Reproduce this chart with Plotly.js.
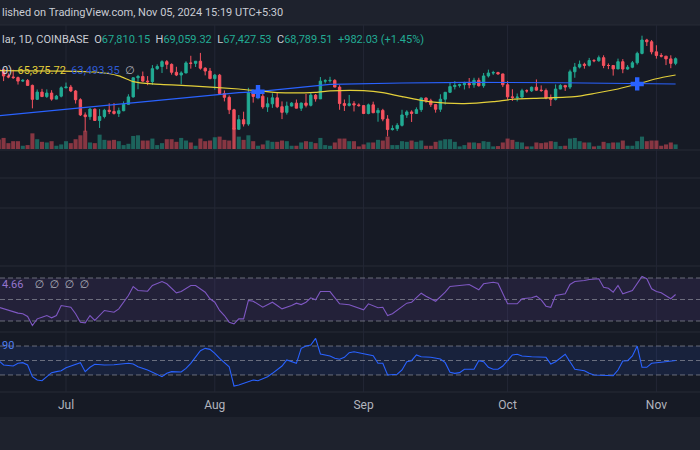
<!DOCTYPE html>
<html><head><meta charset="utf-8">
<script src="https://cdn.plot.ly/plotly-3.0.1.min.js"></script>
<style>html,body{margin:0;padding:0;background:#161a25;overflow:hidden}</style>
</head><body><div id="chart" style="width:700px;height:450px"></div>
<script>
// ---- Daily candles, COINBASE BTC/USD, 1D ----
const dates = [
'2024-06-17','2024-06-18','2024-06-19','2024-06-20','2024-06-21','2024-06-22','2024-06-23','2024-06-24','2024-06-25','2024-06-26','2024-06-27','2024-06-28','2024-06-29','2024-06-30',
'2024-07-01','2024-07-02','2024-07-03','2024-07-04','2024-07-05','2024-07-06','2024-07-07','2024-07-08','2024-07-09','2024-07-10','2024-07-11','2024-07-12','2024-07-13','2024-07-14','2024-07-15','2024-07-16','2024-07-17','2024-07-18','2024-07-19','2024-07-20','2024-07-21','2024-07-22','2024-07-23','2024-07-24','2024-07-25','2024-07-26','2024-07-27','2024-07-28','2024-07-29','2024-07-30','2024-07-31',
'2024-08-01','2024-08-02','2024-08-03','2024-08-04','2024-08-05','2024-08-06','2024-08-07','2024-08-08','2024-08-09','2024-08-10','2024-08-11','2024-08-12','2024-08-13','2024-08-14','2024-08-15','2024-08-16','2024-08-17','2024-08-18','2024-08-19','2024-08-20','2024-08-21','2024-08-22','2024-08-23','2024-08-24','2024-08-25','2024-08-26','2024-08-27','2024-08-28','2024-08-29','2024-08-30','2024-08-31',
'2024-09-01','2024-09-02','2024-09-03','2024-09-04','2024-09-05','2024-09-06','2024-09-07','2024-09-08','2024-09-09','2024-09-10','2024-09-11','2024-09-12','2024-09-13','2024-09-14','2024-09-15','2024-09-16','2024-09-17','2024-09-18','2024-09-19','2024-09-20','2024-09-21','2024-09-22','2024-09-23','2024-09-24','2024-09-25','2024-09-26','2024-09-27','2024-09-28','2024-09-29','2024-09-30',
'2024-10-01','2024-10-02','2024-10-03','2024-10-04','2024-10-05','2024-10-06','2024-10-07','2024-10-08','2024-10-09','2024-10-10','2024-10-11','2024-10-12','2024-10-13','2024-10-14','2024-10-15','2024-10-16','2024-10-17','2024-10-18','2024-10-19','2024-10-20','2024-10-21','2024-10-22','2024-10-23','2024-10-24','2024-10-25','2024-10-26','2024-10-27','2024-10-28','2024-10-29','2024-10-30','2024-10-31',
'2024-11-01','2024-11-02','2024-11-03','2024-11-04','2024-11-05'];
const open = [
66650,66500,65170,64960,64830,64100,64250,63200,60280,61800,60860,61600,60330,60950,
62700,62850,62030,60200,57030,56660,58240,55860,56700,58000,57750,57340,57900,59240,60800,64800,65070,64100,63980,66700,67150,68170,67600,65940,65370,65800,67900,67810,68260,66800,66200,
64620,65350,61500,60700,58100,54020,56030,55130,61700,60880,60940,58700,59350,60600,58740,57560,58880,59490,58440,59500,59030,61170,60380,64090,64180,64250,62850,59400,59020,59370,59120,
58970,57320,59130,57480,57970,56160,53960,54150,54840,57020,57650,57340,58130,60570,60000,59180,58210,60310,61760,62950,63200,63350,63580,63340,64270,63140,65180,65790,65880,65600,
63330,60810,60650,60750,62090,62060,62820,62210,62130,60580,60270,62440,63200,62850,66050,67040,67620,67400,68400,68360,69000,67370,67370,66650,68160,66620,67000,67930,69900,72700,72330,
70220,69460,69320,68750,67810.15];
const high = [
67250,66550,65720,66480,65050,64520,64530,63370,62350,62480,62370,62200,61200,63000,
63800,63300,62250,60500,57550,58480,58380,58250,58300,59450,59500,58550,59850,61350,64900,65400,66100,65150,67450,67600,68450,68500,67800,67100,66150,68250,69400,68300,70000,66980,66850,
65600,65600,62150,61100,58300,57000,57700,62700,61750,61450,61850,60700,61550,61800,59850,59800,59700,60250,59600,61400,61800,61400,64950,64500,65000,64500,63250,60250,61200,59900,59450,
59050,59400,59800,58500,58300,56980,54850,55300,58100,58000,57990,58600,60650,60650,60400,59200,61350,61800,63850,64100,63550,63980,64750,64800,64800,65800,66500,66250,66050,65650,
64100,62400,61500,62500,62380,62950,64450,63200,62550,61300,63400,63450,63300,66500,67900,68400,67950,68950,68700,69450,69500,67800,67450,68800,68700,67450,68300,70250,73600,72950,72700,
71600,69950,69350,69500,69059.32];
const low = [
65100,64100,64690,64560,63380,63940,63200,58400,60250,60800,60600,60000,60330,60700,
62600,61800,59400,56800,53550,56000,55750,54300,56300,57200,57100,56600,57800,59200,60650,62400,63950,63250,63300,66450,65800,66600,65450,65150,63450,65750,66700,67050,66500,65300,64500,
62300,61200,59850,57200,49050,53950,54600,54750,59600,60300,58300,57650,58500,58450,56150,57100,58800,58400,57850,58600,58800,59800,60350,63600,63800,62800,58100,57850,58800,57750,58750,
57200,57150,57400,55600,55700,52550,53750,53650,54600,56400,55550,57330,57650,59550,58700,57500,57650,59200,61600,62350,62750,62350,62600,62700,62950,62700,64850,65400,65450,62850,
60200,59950,59850,60450,61650,61850,62130,61850,60300,58900,60050,62400,62050,62450,64800,66750,66700,67150,68050,68150,66800,66600,65250,66600,65750,66500,66800,67550,69700,71450,69700,
68800,69050,67450,66800,67427.53];
const close = [
66500,65170,64960,64830,64100,64250,63200,60280,61800,60860,61600,60330,60950,62700,
62850,62030,60200,57030,56660,58240,55860,56700,58000,57750,57340,57900,59240,60800,64800,65070,64100,63980,66700,67150,68170,67600,65940,65370,65800,67900,67810,68260,66800,66200,64620,
65350,61500,60700,58100,54020,56030,55130,61700,60880,60940,58700,59350,60600,58740,57560,58880,59490,58440,59500,59030,61170,60380,64090,64180,64250,62850,59400,59020,59370,59120,58970,
57320,59130,57480,57970,56160,53960,54150,54840,57020,57650,57340,58130,60570,60000,59180,58210,60310,61760,62950,63200,63350,63580,63340,64270,63140,65180,65790,65880,65600,63330,
60810,60650,60750,62090,62060,62820,62210,62130,60580,60270,62440,63200,62850,66050,67040,67620,67400,68400,68360,69000,67370,67370,66650,68160,66620,67000,67930,69900,72700,72330,70220,
69460,69320,68750,67807.48,68789.51];
// volume, thousands of BTC
const volumeK = [
14.5,17,9,12,12,5,6,24,15,11,10,12,5,7,
12,9,15,21,28,10,9,22,14,13,14,12,6,8,20,21,13,13,16,6,9,15,15,11,17,13,10,5,16,12,13,
18,19,14,13,32,19,14,21,12,5,7,13,11,11,13,12,5,5,10,12,11,9,17,6,5,10,16,16,12,12,4,
7,10,10,14,13,19,6,6,12,11,13,11,13,5,5,11,13,15,15,11,4,6,10,10,9,12,11,4,4.5,10,
16,14,11,10,4,4,10,9,10,12,11,4.5,5,16,17,12,10,10,4,5,11,9,10,10,13,5,5,12,19,12,13,
13,5,7,10,7];

// ---- Moving averages ----
const maFastDates = ['2024-06-17','2024-07-07','2024-07-12','2024-07-15','2024-07-19','2024-07-27','2024-08-06','2024-08-14','2024-08-22','2024-08-25','2024-09-01','2024-09-05','2024-09-09','2024-09-15','2024-09-22','2024-09-28','2024-10-02','2024-10-08','2024-10-15','2024-10-19','2024-10-24','2024-10-29','2024-11-01','2024-11-05'];
const maFast = [66300,66000,65200,64000,63500,63100,62450,61700,61750,62050,62100,61700,60850,59750,59400,59800,60300,60550,60850,61500,62450,63750,64600,65375.72];
const maSlowDates = ['2024-06-17','2024-07-12','2024-08-06','2024-08-10','2024-08-18','2024-08-25','2024-09-09','2024-09-23','2024-10-12','2024-10-28','2024-11-05'];
const maSlow = [56860,59300,61670,61880,62650,63430,63700,63850,63750,63500,63493.35];
const crossDates = ['2024-08-10','2024-10-28'];
const crossValues = [61880,63500];

// ---- RSI pane ----
const rsiDates = ['2024-06-17','2024-06-19','2024-06-21','2024-06-22','2024-06-23','2024-06-24','2024-06-25','2024-06-26','2024-06-27','2024-06-28','2024-06-29','2024-06-30',
'2024-07-02','2024-07-03','2024-07-04','2024-07-05','2024-07-06','2024-07-07','2024-07-08','2024-07-09','2024-07-11','2024-07-12','2024-07-14','2024-07-15','2024-07-16','2024-07-18','2024-07-19','2024-07-20','2024-07-21','2024-07-22','2024-07-23','2024-07-24','2024-07-25','2024-07-26','2024-07-27','2024-07-28','2024-07-30','2024-07-31',
'2024-08-01','2024-08-02','2024-08-03','2024-08-04','2024-08-05','2024-08-06','2024-08-07','2024-08-08','2024-08-09','2024-08-11','2024-08-13','2024-08-14','2024-08-15','2024-08-17','2024-08-18','2024-08-19','2024-08-20','2024-08-21','2024-08-22','2024-08-23','2024-08-25','2024-08-27','2024-08-29',
'2024-09-01','2024-09-02','2024-09-04','2024-09-05','2024-09-06','2024-09-07','2024-09-10','2024-09-11','2024-09-13','2024-09-14','2024-09-16','2024-09-18','2024-09-19','2024-09-22','2024-09-23','2024-09-25','2024-09-26','2024-09-28','2024-09-29',
'2024-10-01','2024-10-03','2024-10-04','2024-10-06','2024-10-07','2024-10-08','2024-10-09','2024-10-10','2024-10-11','2024-10-13','2024-10-14','2024-10-15','2024-10-17','2024-10-18','2024-10-20','2024-10-21','2024-10-22','2024-10-23','2024-10-24','2024-10-25','2024-10-27','2024-10-29','2024-10-30','2024-10-31',
'2024-11-01','2024-11-02','2024-11-04','2024-11-05'];
const rsiValues = [42.8,39.8,37.3,36.7,34.2,25.8,32.0,33.5,35.1,33.0,35.1,44.4,
42.8,36.7,28.9,28.3,35.1,30.5,35.1,39.8,38.2,41.3,53.7,62.1,58.4,57.7,63.0,64.6,66.7,64.6,60.0,56.2,57.4,60.0,63.0,63.0,56.8,50.7,
47.5,39.8,35.1,28.9,27.4,32.0,32.0,49.1,48.4,42.8,47.5,44.4,41.3,44.4,46.6,45.3,47.5,51.6,49.7,57.4,57.4,46.0,45.1,
40.4,46.0,42.3,42.8,35.1,36.7,46.6,47.5,55.9,53.1,48.4,56.8,62.1,63.0,64.0,59.0,64.6,66.1,65.2,
46.0,46.0,50.7,51.6,53.1,49.7,43.8,42.8,53.7,55.3,64.0,66.7,67.7,68.6,69.3,61.4,60.5,56.8,63.0,55.3,58.4,71.4,69.3,60.0,
57.4,56.2,50.7,54.66];
const rsiBands = [70, 50, 30];

// ---- Second oscillator pane ----
const oscDates = ['2024-06-17','2024-06-18','2024-06-20','2024-06-21','2024-06-22','2024-06-23','2024-06-24','2024-06-25','2024-06-26','2024-06-27','2024-06-28','2024-06-29','2024-06-30',
'2024-07-01','2024-07-02','2024-07-04','2024-07-05','2024-07-06','2024-07-07','2024-07-09','2024-07-11','2024-07-12','2024-07-14','2024-07-15','2024-07-16','2024-07-18','2024-07-19','2024-07-21','2024-07-22','2024-07-23','2024-07-25','2024-07-26','2024-07-27','2024-07-28','2024-07-29','2024-07-30','2024-07-31',
'2024-08-01','2024-08-02','2024-08-04','2024-08-05','2024-08-06','2024-08-08','2024-08-09','2024-08-10','2024-08-12','2024-08-13','2024-08-14','2024-08-15','2024-08-16','2024-08-17','2024-08-18','2024-08-19','2024-08-20','2024-08-21','2024-08-22','2024-08-23','2024-08-25','2024-08-26','2024-08-27','2024-08-28','2024-08-29','2024-08-30',
'2024-09-01','2024-09-02','2024-09-03','2024-09-04','2024-09-05','2024-09-06','2024-09-08','2024-09-09','2024-09-10','2024-09-11','2024-09-12','2024-09-13','2024-09-15','2024-09-17','2024-09-18','2024-09-19','2024-09-20','2024-09-21','2024-09-22','2024-09-24','2024-09-25','2024-09-26','2024-09-27','2024-09-28','2024-09-29','2024-09-30',
'2024-10-02','2024-10-03','2024-10-04','2024-10-06','2024-10-08','2024-10-09','2024-10-10','2024-10-11','2024-10-13','2024-10-14','2024-10-15','2024-10-17','2024-10-18','2024-10-19','2024-10-21','2024-10-22','2024-10-23','2024-10-24','2024-10-25','2024-10-26','2024-10-27','2024-10-28','2024-10-29','2024-10-30','2024-10-31',
'2024-11-02','2024-11-04','2024-11-05'];
const oscValues = [49.7,43.8,42.4,46.1,47.0,43.8,27.7,23.1,22.1,27.7,33.2,34.6,35.9,
40.1,42.4,47.0,34.6,40.6,44.8,43.8,44.2,44.8,46.1,45.2,41.4,36.9,34.1,27.7,32.3,34.6,34.1,39.2,46.1,55.2,63.5,66.8,65.4,
59.9,53.0,41.4,14.8,16.2,20.8,23.1,22.1,27.7,32.3,36.9,42.4,50.7,48.3,46.1,66.8,70.0,71.4,80.6,59.0,56.2,53.0,51.7,54.4,60.8,62.1,
59.0,57.6,56.6,46.1,46.1,30.0,31.0,36.9,48.3,49.7,57.6,55.2,54.4,52.1,47.0,33.7,32.3,33.2,37.9,37.9,49.7,48.3,40.6,37.9,37.9,42.4,
57.6,58.6,56.2,55.2,55.2,54.4,45.2,48.3,58.6,48.3,37.9,35.9,32.3,30.0,29.0,28.6,29.0,36.9,49.3,49.7,56.2,70.0,40.6,40.6,46.1,
47.5,49.3,49.9];
const oscBands = [70, 50, 30];

// ---- Axis labels ----
const monthTicks = ['2024-07-01','2024-08-01','2024-09-01','2024-10-01','2024-11-01'];
const monthLabels = ['Jul','Aug','Sep','Oct','Nov'];

// ---- styles ----
const W = 700, H = 450;
const py = p => 1 - p / H;
const UP = '#22ab94', DOWN = '#f7525f';
const FONT = 'Roboto, "DejaVu Sans", sans-serif';
const n = dates.length, last = n - 1;
const fmt = v => v.toLocaleString('en-US', {minimumFractionDigits: 2, maximumFractionDigits: 2});

const volColors = close.map((c, i) => c >= open[i] ? 'rgba(34,171,148,0.5)' : 'rgba(247,82,95,0.5)');

const traces = [
  {type: 'bar', x: dates, y: volumeK, xaxis: 'x', yaxis: 'y', marker: {color: volColors, line: {width: 0}}, hoverinfo: 'skip'},
  {type: 'candlestick', x: dates, open: open, high: high, low: low, close: close, xaxis: 'x', yaxis: 'y2',
   increasing: {line: {color: UP, width: 1}, fillcolor: UP},
   decreasing: {line: {color: DOWN, width: 1}, fillcolor: DOWN}, whiskerwidth: 0},
  {type: 'scatter', mode: 'lines', x: maSlowDates, y: maSlow, xaxis: 'x', yaxis: 'y2', line: {color: '#2962ff', width: 1.2}},
  {type: 'scatter', mode: 'lines', x: maFastDates, y: maFast, xaxis: 'x', yaxis: 'y2', line: {color: '#e3cf3a', width: 1.2, shape: 'spline', smoothing: 0.6}},
  {type: 'scatter', mode: 'markers', x: crossDates, y: crossValues, xaxis: 'x', yaxis: 'y2', marker: {symbol: 'cross', size: 11, color: '#2962ff'}},
  {type: 'scatter', mode: 'lines', x: rsiDates, y: rsiValues, xaxis: 'x', yaxis: 'y3', line: {color: '#7e57c2', width: 1.1}},
  {type: 'scatter', mode: 'lines', x: oscDates, y: oscValues, xaxis: 'x', yaxis: 'y4', line: {color: '#2962ff', width: 1.1}}
];

const shapes = [];
// header & bottom strips
shapes.push({type: 'rect', xref: 'paper', yref: 'paper', x0: 0, x1: 1, y0: py(25), y1: 1, fillcolor: '#1e222d', line: {width: 0}, layer: 'below'});
shapes.push({type: 'rect', xref: 'paper', yref: 'paper', x0: 0, x1: 1, y0: 0, y1: py(417), fillcolor: '#1e222d', line: {width: 0}, layer: 'below'});
// pane separators / grid
[25, 150, 178, 208, 266, 332, 392].forEach(p => shapes.push({type: 'line', xref: 'paper', yref: 'paper', x0: 0, x1: 1, y0: py(p), y1: py(p), line: {color: '#262a36', width: 1}, layer: 'below'}));
// month grid
monthTicks.forEach(d => shapes.push({type: 'line', xref: 'x', yref: 'paper', x0: d, x1: d, y0: py(392), y1: py(25), line: {color: '#232735', width: 1}, layer: 'below'}));
// RSI bands
shapes.push({type: 'rect', xref: 'paper', yref: 'y3', x0: 0, x1: 1, y0: rsiBands[2], y1: rsiBands[0], fillcolor: 'rgba(126,87,194,0.13)', line: {width: 0}, layer: 'below'});
rsiBands.forEach(b => shapes.push({type: 'line', xref: 'paper', yref: 'y3', x0: 0, x1: 1, y0: b, y1: b, line: {color: 'rgba(140,143,154,0.7)', width: 1, dash: '5px,3px'}, layer: 'below'}));
// oscillator bands
shapes.push({type: 'rect', xref: 'paper', yref: 'y4', x0: 0, x1: 1, y0: oscBands[2], y1: oscBands[0], fillcolor: 'rgba(41,98,255,0.11)', line: {width: 0}, layer: 'below'});
oscBands.forEach(b => shapes.push({type: 'line', xref: 'paper', yref: 'y4', x0: 0, x1: 1, y0: b, y1: b, line: {color: 'rgba(140,143,154,0.7)', width: 1, dash: '5px,3px'}, layer: 'below'}));

const chg = close[last] - close[last - 1];
const pct = chg / close[last - 1] * 100;
const G = s => '<span style="color:' + UP + '">' + s + '</span>';
const sp = '\u00a0\u00a0';
const legendRow = 'lar, 1D, COINBASE' + sp + 'O' + G(fmt(open[last])) + sp + 'H' + G(fmt(high[last])) + sp + 'L' + G(fmt(low[last])) + sp + 'C' + G(fmt(close[last])) + sp + G('+' + fmt(chg) + ' (+' + pct.toFixed(2) + '%)');
const maRow = '0)\u00a0 <span style="color:#e3cf3a">' + fmt(maFast[maFast.length - 1]) + '</span>' + sp + '<span style="color:#2f5bd6">' + fmt(maSlow[maSlow.length - 1]) + '</span>' + sp + '<span style="color:#b2b5be">\u2205</span>';
const rsiRow = '<span style="color:#9575cd">4.66</span>' + sp + sp + '<span style="color:#b2b5be">\u2205' + sp + '\u2205' + sp + '\u2205' + sp + '\u2205</span>';

const ann = (text, x, y, size, color) => ({text: text, xref: 'paper', yref: 'paper', x: x / W, y: py(y), xanchor: 'left', yanchor: 'middle', showarrow: false, font: {family: FONT, size: size, color: color}});

const layout = {
  width: W, height: H, margin: {l: 0, r: 0, t: 0, b: 0},
  paper_bgcolor: '#161a25', plot_bgcolor: 'rgba(0,0,0,0)', showlegend: false,
  xaxis: {type: 'date', range: ['2024-06-17 06:00', '2024-11-10 02:00'], domain: [0, 1], anchor: 'free', position: py(396),
          showgrid: false, zeroline: false, showline: false, ticks: '', tickvals: monthTicks, ticktext: monthLabels,
          tickfont: {family: FONT, size: 12, color: '#b2b5be'}, rangeslider: {visible: false}, fixedrange: true},
  yaxis: {domain: [py(149), py(25)], range: [0, 190], visible: false, fixedrange: true},
  yaxis2: {overlaying: 'y', range: [49895, 75837], visible: false, fixedrange: true},
  yaxis3: {domain: [py(331), py(268)], range: [20.7, 79.3], visible: false, fixedrange: true},
  yaxis4: {domain: [py(387), py(334)], range: [13.4, 86.6], visible: false, fixedrange: true},
  bargap: 0.15,
  shapes: shapes,
  annotations: [
    ann('lished on TradingView.com, Nov 05, 2024 15:19 UTC+5:30', 0, 13, 11, '#c9ccd4'),
    ann(legendRow, 0, 39, 11, '#c9ccd4'),
    ann(maRow, 0, 70, 11, '#d1d4dc'),
    ann(rsiRow, 0, 284, 11, '#b2b5be'),
    ann('<span style="color:#4f7ff0">90</span>', 0, 345, 11, '#4f7ff0')
  ]
};

Plotly.newPlot('chart', traces, layout, {staticPlot: true, displayModeBar: false});
</script></body></html>
